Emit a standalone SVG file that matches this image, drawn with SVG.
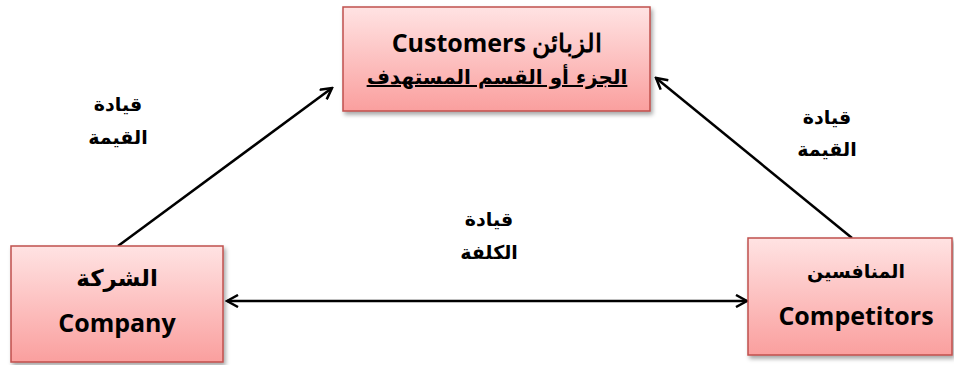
<svg xmlns="http://www.w3.org/2000/svg" width="954" height="365" viewBox="0 0 954 365">
<style>
.box{fill:url(#g);stroke:#c0504d;stroke-width:1.5;filter:url(#sh)}
.t{font-family:"DejaVu Sans","Noto Sans",sans-serif;font-weight:bold;fill:#000;text-anchor:middle}
.en{font-size:25px;font-family:"Open Sans","Noto Sans",sans-serif}
.ar{font-size:20px}
.lbl{font-size:19px}
.c{stroke:#000;stroke-width:2.5;fill:none}
</style>
<defs>
<linearGradient id="g" x1="0" y1="0" x2="0" y2="1">
<stop offset="0" stop-color="#ffe3e3"/>
<stop offset="1" stop-color="#fa9f9e"/>
</linearGradient>
<filter id="sh" x="-10%" y="-10%" width="130%" height="140%">
<feDropShadow dx="2" dy="3" stdDeviation="2" flood-color="#000" flood-opacity="0.35"/>
</filter>
<marker id="a" markerWidth="14" markerHeight="14" refX="12" refY="7" orient="auto-start-reverse" markerUnits="userSpaceOnUse" viewBox="0 0 14 14">
<path d="M1,1 L12,7 L1,13" fill="none" stroke="#000" stroke-width="2.5"/>
</marker>
</defs>
<g id="connectors">
<line class="c" x1="118" y1="246" x2="332" y2="88" marker-end="url(#a)"/>
<line class="c" x1="852" y1="238" x2="656" y2="78" marker-end="url(#a)"/>
<line class="c" x1="227" y1="301" x2="747" y2="301" marker-start="url(#a)" marker-end="url(#a)"/>
</g>
<g id="customers">
<rect class="box" x="343" y="7" width="307" height="104"/>
<text class="t en" x="497" y="52" direction="rtl">الزبائن Customers</text>
<text class="t ar" x="497" y="84" direction="rtl" text-decoration="underline">الجزء أو القسم المستهدف</text>
</g>
<g id="company">
<rect class="box" x="11" y="246" width="212" height="116"/>
<text class="t" x="117" y="286" font-size="23" direction="rtl">الشركة</text>
<text class="t en" x="117" y="332">Company</text>
</g>
<g id="competitors">
<rect class="box" x="748" y="238" width="204" height="117"/>
<text class="t" x="856" y="278" font-size="19" direction="rtl">المنافسين</text>
<text class="t en" x="856" y="325">Competitors</text>
</g>
<g id="labels">
<text class="t lbl" x="118" y="111" direction="rtl">قيادة</text>
<text class="t lbl" x="118" y="144" direction="rtl">القيمة</text>
<text class="t lbl" x="827" y="124" direction="rtl">قيادة</text>
<text class="t lbl" x="827" y="156" direction="rtl">القيمة</text>
<text class="t lbl" x="489" y="226" direction="rtl">قيادة</text>
<text class="t lbl" x="489" y="259" direction="rtl">الكلفة</text>
</g>
</svg>
